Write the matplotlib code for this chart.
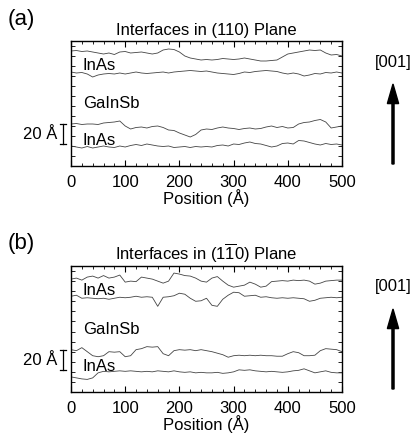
import numpy as np
import matplotlib
matplotlib.use("Agg")
import matplotlib.pyplot as plt
from matplotlib.ticker import MultipleLocator
import matplotlib.transforms as mtransforms

plt.rcParams['font.family'] = ['Liberation Sans', 'DejaVu Sans']
plt.rcParams['mathtext.fontset'] = 'custom'
plt.rcParams['mathtext.rm'] = 'Liberation Sans'

position = np.arange(0, 501, 10)

a_top_upper = [115, 115.5, 114.5, 115, 114, 113, 112, 113, 111.5, 114, 114.5, 113, 113.5, 114, 113, 112, 113, 116, 117, 116.5,
               114, 110, 108, 107, 106, 106.5, 106, 106.5, 107.5, 107, 106.5, 107, 108, 107, 106, 105, 105, 105.5, 106, 109,
               112, 113, 114, 115, 116, 115.5, 116, 113, 111, 111.5, 110]
a_top_lower = [94, 93, 93.5, 92, 89, 91, 92, 92.5, 92, 93, 92, 93, 94, 93, 92.5, 93, 93.5, 94, 93, 94,
               94.5, 95, 95.5, 95, 94.5, 95, 94, 93, 92.5, 92, 91.5, 92.5, 94, 93.5, 94.5, 95, 95.5, 95, 94.5, 93,
               92, 93, 92, 90, 91, 92.5, 92, 93.5, 93, 94, 93]
a_bot_upper = [42, 42.5, 41.5, 42, 42, 41.5, 43, 43.5, 44, 45, 40, 37, 38.5, 39, 38, 39.5, 40, 38.5, 36, 35.5,
               33, 31, 29, 31.5, 36, 37, 36.5, 38, 39, 38, 37.5, 36.5, 37.5, 38, 37, 37.5, 39, 40, 38.5, 39.5,
               38, 38.5, 42, 43.5, 44, 45.5, 46.5, 44, 38, 39, 40]
a_bot_lower = [20, 19, 18, 19.5, 18, 19, 20, 19, 18.5, 20, 19, 20.5, 21.5, 20.5, 22, 21, 20, 19.5, 20, 18.5,
               19, 19.5, 18.5, 19.5, 19, 19.5, 19, 20.5, 21, 20, 22, 21.5, 23, 24, 22.5, 22, 20.5, 19, 20, 22.5,
               23, 22, 25.5, 25, 23.5, 22, 21, 22.5, 21.5, 22, 21]

b_top_upper = [112, 113, 111, 114, 115, 113, 115.5, 113, 114, 116, 109, 110, 109.5, 114, 113, 112, 110, 108, 110, 118,
               117, 115.5, 115, 113, 110, 109, 113, 114.5, 110, 106, 104, 105, 106, 109, 107, 104, 105, 109.5, 110, 110.5,
               110, 111, 110.5, 111, 110, 107, 108, 110, 110.5, 111, 111]
b_top_lower = [95, 96, 93, 93.5, 93, 92.5, 93, 92, 93, 94, 93.5, 94, 95, 94, 94.5, 94, 85, 94, 94.5, 95.5,
               98, 97, 93, 90, 90.5, 93, 86, 85, 92, 96, 99, 98.5, 95, 95.5, 96, 94, 94.5, 93.5, 93, 93.5,
               93, 93.5, 93, 92.5, 90, 91, 93, 93.5, 94, 93.5, 94]
b_bot_upper = [42, 41, 44, 40, 36, 35, 36, 40, 39.5, 40, 35, 36, 42, 43, 45, 44.5, 45, 38, 36, 41,
               42, 41.5, 42, 41, 42, 41, 40, 38.5, 37, 34.5, 36, 36.5, 36, 36.5, 36, 36.5, 36, 36, 35.5, 35.5,
               38, 40, 39, 36, 36, 36.5, 41, 43, 42.5, 42, 40]
b_bot_lower = [15, 14, 13, 12.5, 14, 19, 20.5, 20, 20.5, 21, 20.5, 21, 20.5, 20, 20.5, 20, 21, 20.5, 20, 21,
               20, 19.5, 20, 19, 19.5, 19, 19, 19.5, 18.5, 19, 20, 22, 21.5, 22, 21, 20.5, 20, 20.5, 20, 19.5,
               20, 21, 21.5, 23, 21, 19, 20, 21, 19.5, 19, 19]

panels = [
    dict(label="(a)", title="Interfaces in (110) Plane",
         lines=[a_top_upper, a_top_lower, a_bot_upper, a_bot_lower], top=42, bottom=167),
    dict(label="(b)", title=r"Interfaces in (1$\overline{\mathrm{1}}$0) Plane",
         lines=[b_top_upper, b_top_lower, b_bot_upper, b_bot_lower], top=267, bottom=393),
]
layer_labels = ["InAs", "GaInSb", "InAs"]
layer_y = [102, 63, 26]
x_ticks = [0, 100, 200, 300, 400, 500]

W, H = 417, 435
fig = plt.figure(figsize=(W / 100, H / 100), dpi=100)
FS = 12

def fx(px):
    return px / W

def fy(py):
    return 1 - py / H

for p in panels:
    ax = fig.add_axes([fx(71), fy(p["bottom"]), fx(342) - fx(71), fy(p["top"]) - fy(p["bottom"])])
    for ln in p["lines"]:
        ax.plot(position, ln, color="#444444", lw=0.6)
    ax.set_xlim(0, 500)
    ax.set_ylim(0, 125)
    ax.set_xticks(x_ticks)
    ax.xaxis.set_minor_locator(MultipleLocator(20))
    ax.set_yticks([])
    ax.yaxis.set_minor_locator(MultipleLocator(10))
    ax.tick_params(axis='x', which='major', direction='in', length=4, width=0.8, top=True,
                   labelsize=FS, pad=6)
    ax.tick_params(axis='x', which='minor', direction='in', length=2.5, width=0.6, top=True)
    ax.tick_params(axis='y', which='minor', direction='in', length=3, width=0.6, left=True, right=True)
    for s in ax.spines.values():
        s.set_linewidth(1.0)
    ax.set_xlabel("Position (Å)", fontsize=FS, labelpad=-1)
    ax.set_title(p["title"], fontsize=FS, pad=5)
    for t, yv in zip(layer_labels, layer_y):
        ax.text(22, yv, t, fontsize=FS, va='center', ha='left')
    # 20 Å scale bar
    tr = mtransforms.blended_transform_factory(ax.transAxes, ax.transData)
    xb = -0.03
    ax.plot([xb, xb], [22, 42], transform=tr, color='black', lw=0.9, clip_on=False)
    for yv in (22, 42):
        ax.plot([xb - 0.011, xb + 0.011], [yv, yv], transform=tr, color='black', lw=0.9, clip_on=False)
    ax.text(xb - 0.022, 32, "20 Å", transform=tr, fontsize=FS, ha='right', va='center')
    # panel label
    fig.text(fx(8), fy(p["top"] - 23), p["label"], fontsize=16, ha='left', va='center')
    # direction arrow
    fig.text(fx(393), fy(p["top"] + 20), "[001]", fontsize=FS, ha='center', va='center')
    fig.patches.append(matplotlib.patches.FancyArrow(
        fx(393), fy(p["top"] + 123), 0, fy(p["top"] + 43) - fy(p["top"] + 123),
        width=0.005, head_width=0.027, head_length=0.045, length_includes_head=True,
        color='black', transform=fig.transFigure, figure=fig))

fig.savefig("out.png", dpi=100)
